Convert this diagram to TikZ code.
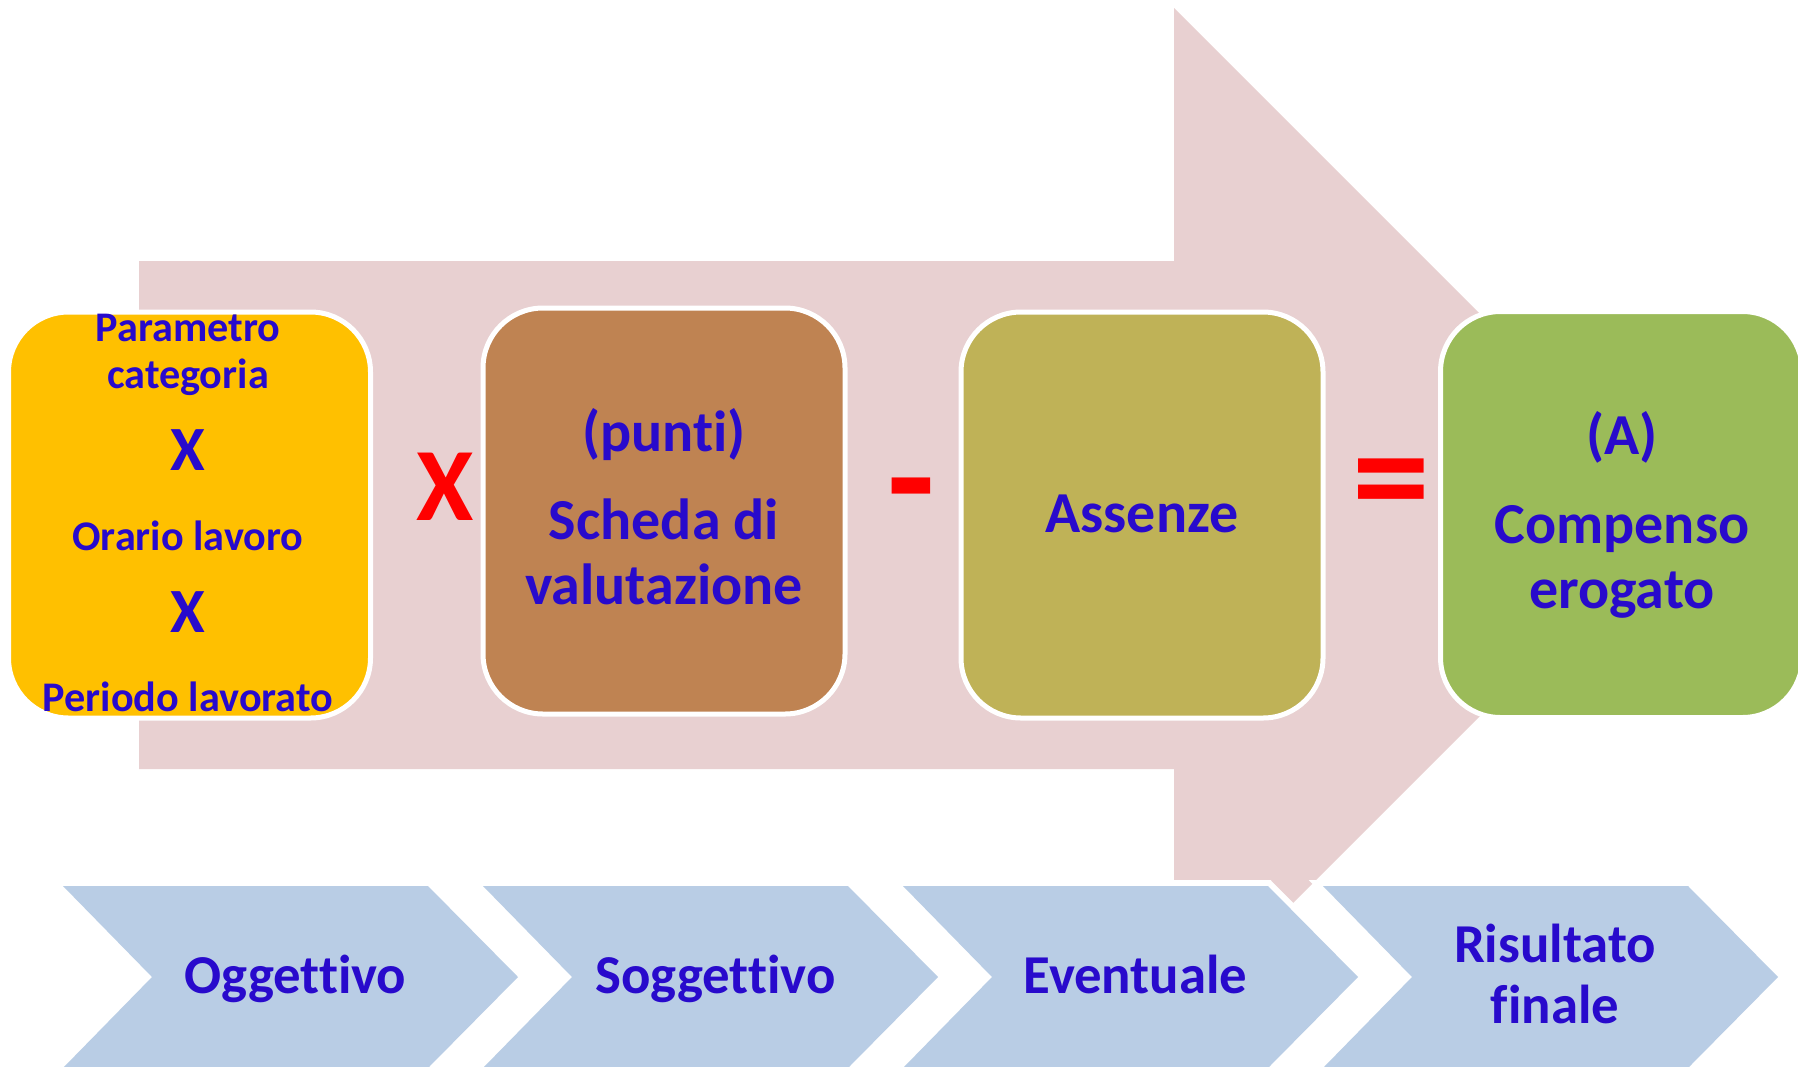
\documentclass[tikz,border=0pt]{standalone}
\usepackage{fontspec}
\setmainfont{Carlito}[RawFeature={-liga;-clig;-dlig}]
\definecolor{arrowpink}{RGB}{232,208,209}
\definecolor{chevblue}{RGB}{185,205,229}
\definecolor{boxyellow}{RGB}{255,192,0}
\definecolor{boxbrown}{RGB}{191,131,82}
\definecolor{boxolive}{RGB}{191,178,87}
\definecolor{boxgreen}{RGB}{155,187,89}
\definecolor{textblue}{RGB}{40,10,204}
\definecolor{oprred}{RGB}{255,0,0}
\tikzset{
  box/.style={draw=white, line width=2.5pt, rounded corners=30pt, minimum width=181pt, minimum height=203pt, inner sep=0pt, outer sep=0pt},
  chev/.style={fill=chevblue, preaction={draw=white, line width=6pt, line join=miter}},
  bigtxt/.style={text=textblue, anchor=base, inner sep=0pt, font=\bfseries\fontsize{29}{34}\selectfont},
  smalltxt/.style={text=textblue, anchor=base, inner sep=0pt, font=\bfseries\fontsize{21.1}{25}\selectfont},
  timestxt/.style={text=textblue, anchor=base, inner sep=0pt, font=\bfseries\fontsize{31.5}{36}\selectfont},
  chevtxt/.style={text=textblue, anchor=base, inner sep=0pt, font=\bfseries\fontsize{27.4}{32}\selectfont},
  optxt/.style={text=oprred, anchor=base, inner sep=0pt, font=\bfseries\fontsize{#1}{#1}\selectfont}
}

\begin{document}
\begin{tikzpicture}[x=0.5pt,y=0.5pt,yscale=-1,xscale=1]
\useasboundingbox (0,0) rectangle (1798,1066);
\clip (0,0) rectangle (1798,1066);

%Shape: Right Arrow
\fill[arrowpink] (139,261) -- (1174,261) -- (1174,8) -- (1681,515) -- (1174,1022) -- (1174,769) -- (139,769) -- cycle;

%Shape: Rounded Rectangles
\node[box, fill=boxyellow] (param) at (189.5,515) {};
\node[box, fill=boxbrown] (scheda) at (664,511) {};
\node[box, fill=boxolive] (assenze) at (1142,515) {};
\node[box, fill=boxgreen] (compenso) at (1621.5,514.5) {};

%Shape: Chevrons
\path[chev] (63,886) -- (428,886) -- (518,977) -- (428,1068) -- (63,1068) -- (152,977) -- cycle;
\path[chev] (483,886) -- (848,886) -- (938,977) -- (848,1068) -- (483,1068) -- (572,977) -- cycle;
\path[chev] (903,886) -- (1268,886) -- (1358,977) -- (1268,1068) -- (903,1068) -- (992,977) -- cycle;
\path[chev] (1323,886) -- (1688,886) -- (1778,977) -- (1688,1068) -- (1323,1068) -- (1412,977) -- cycle;

% Text Node
\node[smalltxt] (paramA) at (188,341.7) {Parametro};
\node[smalltxt] (paramB) at (188,388) {categoria};
\node[timestxt] (timesA) at (188,470) {X};
\node[smalltxt] (orario) at (188,550) {Orario lavoro};
\node[timestxt] (timesB) at (188,632) {X};
\node[smalltxt] (periodo) at (188,711.7) {Periodo lavorato};
% Text Node
\node[bigtxt] (punti) at (664,451) {(punti)};
\node[bigtxt] (schedaA) at (664,539) {Scheda di};
\node[bigtxt] (schedaB) at (664,604) {valutazione};
% Text Node
\node[bigtxt] (assenzeT) at (1142,532) {Assenze};
% Text Node
\node[bigtxt] (lettA) at (1622,454) {(A)};
\node[bigtxt] (compensoA) at (1622,543) {Compenso};
\node[bigtxt] (compensoB) at (1622,608) {erogato};

% Operators
\node[optxt=52] (opX) at (445.5,520) {X};
\node[optxt=78] (opMinus) at (911.5,530) {-};
\node[optxt=78] (opEq) at (1391,528) {=};

% Chevron labels
\node[chevtxt] (ogg) at (295.5,993) {Oggettivo};
\node[chevtxt] (sogg) at (715.5,993) {Soggettivo};
\node[chevtxt] (event) at (1135.5,993) {Eventuale};
\node[chevtxt] (risA) at (1555,962) {Risultato};
\node[chevtxt] (risB) at (1555,1023) {finale};

\end{tikzpicture}
\end{document}
